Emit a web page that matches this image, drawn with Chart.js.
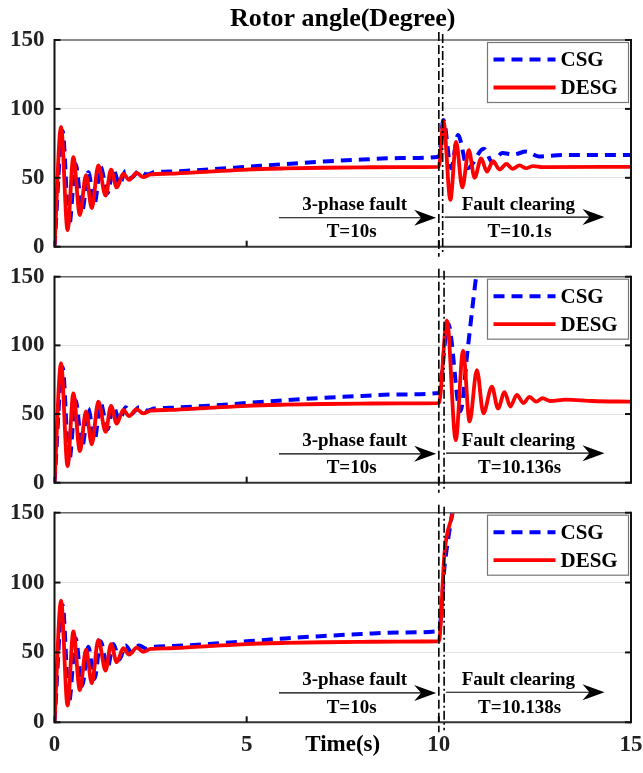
<!DOCTYPE html>
<html>
<head>
<meta charset="utf-8">
<script src="https://cdn.jsdelivr.net/npm/chart.js@4.4.0/dist/chart.umd.min.js"></script>
<style>
  html, body { margin: 0; padding: 0; background: #fff; }
  #wrap { position: relative; width: 643px; height: 773px; background: #fff; }
  canvas { position: absolute; left: 0; }
</style>
</head>
<body>
<div id="wrap">
  <canvas id="c1" width="643" height="262" style="top:0px"></canvas>
  <canvas id="c2" width="643" height="234" style="top:262px"></canvas>
  <canvas id="c3" width="643" height="277" style="top:496px"></canvas>
</div>
<script>
// axes
const xTicks = [0, 5, 10, 15];
const yTicks = [0, 50, 100, 150];
const seriesNames = ['CSG', 'DESG'];
const faultTime = 10;
const clearTimes = [10.1, 10.136, 10.138];
const clearLabels = ['T=10.1s', 'T=10.136s', 'T=10.138s'];

// start-up swing, same in all three runs (time s, angle deg)
const desgPreT = [0, 0.17, 0.34, 0.49, 0.66, 0.82, 0.97, 1.14, 1.33, 1.47, 1.62, 1.79, 1.94, 2.14, 2.31, 2.5, 3, 4, 5, 6, 7, 8, 9, 10];
const desgPre  = [0, 87, 12, 65, 23, 52, 28, 59, 37, 56, 43, 53, 48.5, 53.5, 50.5, 52.5, 53, 54.5, 56, 56.8, 57.3, 57.6, 57.8, 58];
const csgPreT  = [0, 0.21, 0.38, 0.55, 0.72, 0.88, 1.04, 1.2, 1.38, 1.53, 1.69, 1.85, 2.0, 2.2, 2.4, 2.6, 3, 4, 5, 6, 7, 8, 9, 10];
const csgPre   = [0, 84, 15, 60, 26, 54, 31, 58, 39, 56, 45, 55, 50, 55, 52.5, 54, 54.5, 56, 58, 60, 61.8, 63.2, 64.3, 65.3];

// after the fault, run 1 (cleared at 10.1 s)
const desg1T = [10.12, 10.3, 10.45, 10.61, 10.78, 10.93, 11.1, 11.25, 11.41, 11.58, 11.76, 11.92, 12.1, 12.27, 12.45, 12.7, 15];
const desg1  = [91, 34, 76, 43, 70, 50, 64, 54.5, 62, 56, 60, 56.5, 59, 57, 58.5, 57.8, 58];
const csg1T  = [10.12, 10.32, 10.5, 10.75, 11.17, 11.4, 11.65, 11.95, 12.27, 12.6, 13.2, 15];
const csg1   = [92, 57, 81, 57, 71, 61, 68, 67, 69, 65.5, 66.5, 66.5];

// run 2 (cleared at 10.136 s)
const desg2T = [10.21, 10.44, 10.63, 10.8, 10.99, 11.16, 11.38, 11.54, 11.71, 11.86, 12.03, 12.2, 12.36, 12.53, 12.7, 12.9, 13.3, 14, 15];
const desg2  = [118, 31, 96, 44.5, 82, 50.5, 70, 54, 66, 55.5, 64, 58, 62.5, 59, 61.5, 59.5, 60.5, 59.5, 59];
const csg2T  = [10.24, 10.56, 10.75, 10.97, 11.1];
const csg2   = [116, 52, 97, 150, 175];

// run 3 (cleared at 10.138 s)
const desg3T = [10.15, 10.37, 10.5];
const desg3  = [122, 151, 175];
const csg3T  = [10.15, 10.32, 10.4];
const csg3   = [112, 145, 160];

const FONT = '"Liberation Serif", "Times New Roman", serif';

function pts(ts, vs) {
  return ts.map((t, i) => ({ x: t, y: vs[i] }));
}

function line(ctx, x1, y1, x2, y2) {
  ctx.beginPath();
  ctx.moveTo(x1, y1);
  ctx.lineTo(x2, y2);
  ctx.stroke();
}

function arrow(ctx, x1, x2, yy) {
  ctx.setLineDash([]);
  ctx.lineWidth = 1.2;
  line(ctx, x1, yy, x2 - 10, yy);
  ctx.beginPath();
  ctx.moveTo(x2, yy);
  ctx.lineTo(x2 - 22, yy - 8);
  ctx.lineTo(x2 - 15, yy);
  ctx.lineTo(x2 - 22, yy + 8);
  ctx.closePath();
  ctx.fill();
}

// frame, inner ticks, fault markers, notes and legend
const panelDecor = {
  id: 'panelDecor',
  afterDraw(chart, args, o) {
    const { ctx, chartArea: a, scales: { x, y } } = chart;
    ctx.save();

    // box
    ctx.lineCap = 'butt';
    ctx.strokeStyle = '#666';
    ctx.lineWidth = 1.5;
    line(ctx, a.left, a.top, a.right, a.top);
    ctx.strokeStyle = '#333';
    ctx.lineWidth = 2;
    line(ctx, a.left, a.bottom, a.right, a.bottom);
    ctx.strokeStyle = '#111';
    line(ctx, a.left, a.top - 1, a.left, a.bottom + 1);
    line(ctx, a.right, a.top - 1, a.right, a.bottom + 1);
    yTicks.forEach(v => {
      const py = y.getPixelForValue(v);
      line(ctx, a.left, py, a.left + 6, py);
      line(ctx, a.right - 6, py, a.right, py);
    });
    xTicks.forEach(v => {
      const px = x.getPixelForValue(v);
      line(ctx, px, a.bottom, px, a.bottom - 6);
    });

    // fault / clearing lines
    ctx.strokeStyle = '#000';
    ctx.lineWidth = 1.6;
    const fx = x.getPixelForValue(faultTime);
    ctx.setLineDash([9, 4]);
    line(ctx, fx, a.top - 8, fx, a.bottom + 10);
    const cx = x.getPixelForValue(o.clearing);
    ctx.setLineDash([9, 3, 2, 3]);
    line(ctx, cx, a.top - 6, cx, a.bottom + 8);

    // notes
    ctx.fillStyle = '#000';
    arrow(ctx, x.getPixelForValue(5.84), x.getPixelForValue(9.93), y.getPixelForValue(21));
    arrow(ctx, cx + 2, x.getPixelForValue(14.31), y.getPixelForValue(21.5));
    ctx.font = 'bold 19px ' + FONT;
    ctx.textAlign = 'center';
    ctx.textBaseline = 'middle';
    ctx.fillText('3-phase fault', x.getPixelForValue(7.81), y.getPixelForValue(30));
    ctx.fillText('T=10s', x.getPixelForValue(7.73), y.getPixelForValue(10.5));
    ctx.fillText('Fault clearing', x.getPixelForValue(12.07), y.getPixelForValue(30.5));
    ctx.fillText(o.label, x.getPixelForValue(12.1), y.getPixelForValue(10.5));

    // legend
    const bx = a.right - 143.5, by = a.top + 2.5, bw = 141, bh = 60;
    ctx.fillStyle = '#fff';
    ctx.fillRect(bx, by, bw, bh);
    ctx.setLineDash([]);
    ctx.strokeStyle = '#777';
    ctx.lineWidth = 1.2;
    ctx.strokeRect(bx, by, bw, bh);
    ctx.font = 'bold 21px ' + FONT;
    ctx.textAlign = 'left';
    chart.data.datasets.forEach((ds, i) => {
      const ly = by + 17 + i * 28;
      ctx.strokeStyle = ds.borderColor;
      ctx.lineWidth = ds.borderWidth;
      ctx.setLineDash(ds.borderDash || []);
      line(ctx, bx + 6, ly, bx + 68, ly);
      ctx.fillStyle = '#000';
      ctx.fillText(ds.label, bx + 73, ly + 1);
    });

    if (o.title) {
      ctx.font = 'bold 26px ' + FONT;
      ctx.textAlign = 'center';
      ctx.fillStyle = '#000';
      ctx.fillText(o.title, (a.left + a.right) / 2, 19);
    }
    ctx.restore();
  }
};

function makePanel(id, k, padTop, xHeight, csgT, csg, desgT, desg, last) {
  const tickFont = { family: FONT, size: 23, weight: 'bold' };
  return new Chart(document.getElementById(id), {
    type: 'line',
    data: {
      datasets: [
        {
          label: seriesNames[0],
          data: pts(csgPreT.concat(csgT), csgPre.concat(csg)),
          borderColor: '#0000ff',
          borderWidth: 4,
          borderDash: [11, 7],
          order: 1,
          clip: 0
        },
        {
          label: seriesNames[1],
          data: pts(desgPreT.concat(desgT), desgPre.concat(desg)),
          borderColor: '#ff0000',
          borderWidth: 3.8,
          order: 0,
          clip: 0
        }
      ]
    },
    options: {
      responsive: false,
      animation: false,
      layout: { padding: { top: padTop, right: 12, left: 0, bottom: 0 } },
      elements: {
        point: { radius: 0 },
        line: { cubicInterpolationMode: 'monotone', fill: false }
      },
      plugins: {
        legend: { display: false },
        tooltip: { enabled: false },
        panelDecor: {
          clearing: clearTimes[k],
          label: clearLabels[k],
          title: k === 0 ? 'Rotor angle(Degree)' : null
        }
      },
      scales: {
        x: {
          type: 'linear',
          min: 0,
          max: 15,
          ticks: { display: last, stepSize: 5, font: tickFont, color: '#222', padding: 9 },
          grid: { display: false, drawTicks: false },
          border: { display: false },
          title: {
            display: last,
            text: 'Time(s)',
            font: tickFont,
            color: '#000',
            padding: { top: 0, bottom: 14 }
          },
          afterFit: s => {
            s.height = xHeight;
            s.paddingLeft = 0;
            s.paddingRight = 0;
          }
        },
        y: {
          min: 0,
          max: 150,
          ticks: { stepSize: 50, font: tickFont, color: '#222', padding: 10 },
          grid: {
            drawTicks: false,
            color: c => (c.tick && (c.tick.value === 50 || c.tick.value === 100)) ? '#e2e2e2' : 'rgba(0,0,0,0)'
          },
          border: { display: false },
          afterFit: s => {
            s.width = 54.5;
            s.paddingTop = 0;
            s.paddingBottom = 0;
          }
        }
      }
    },
    plugins: [panelDecor]
  });
}

makePanel('c1', 0, 40, 15.3, csg1T, csg1, desg1T, desg1, false);
makePanel('c2', 1, 14.7, 13.3, csg2T, csg2, desg2T, desg2, false);
makePanel('c3', 2, 16.7, 50.7, csg3T, csg3, desg3T, desg3, true);
</script>
</body>
</html>
